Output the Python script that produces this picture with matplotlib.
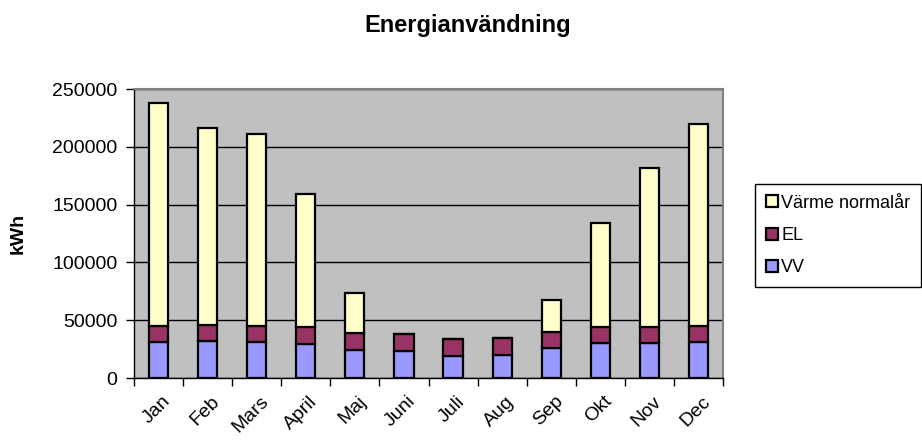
import matplotlib
matplotlib.use("Agg")
import matplotlib.pyplot as plt
from matplotlib.transforms import ScaledTranslation
import numpy as np

plt.rcParams['font.family'] = ['Liberation Sans', 'DejaVu Sans']

months = ["Jan", "Feb", "Mars", "April", "Maj", "Juni", "Juli", "Aug", "Sep", "Okt", "Nov", "Dec"]
vv = [30900, 32000, 30900, 29700, 24200, 23350, 19300, 20150, 25670, 30000, 30550, 31150]
el = [14100, 13850, 14100, 14150, 14450, 14450, 14150, 14150, 14380, 13850, 13850, 13850]
varme = [192600, 170650, 166060, 115050, 34600, 0, 0, 0, 27420, 89950, 137000, 174400]
yticks = [0, 50000, 100000, 150000, 200000, 250000]

c_vv = "#9999FF"
c_el = "#993366"
c_varme = "#FFFFCC"

fig = plt.figure(figsize=(9.22, 4.40), dpi=100)
ax = fig.add_axes([134 / 922, 1 - 378 / 440, (723 - 134) / 922, (378 - 89) / 440])
ax.set_facecolor("#C0C0C0")

x = np.arange(len(months)) + 0.5
w = 0.39
vv_a = np.array(vv)
el_a = np.array(el)
bk = dict(edgecolor="black", linewidth=1.6, zorder=3)
b_vv = ax.bar(x, vv_a, w, color=c_vv, label="VV", **bk)
b_el = ax.bar(x, el_a, w, bottom=vv_a, color=c_el, label="EL", **bk)
b_va = ax.bar(x, varme, w, bottom=vv_a + el_a, color=c_varme, label="Värme normalår", **bk)

ax.set_xlim(0, len(months))
ax.set_ylim(0, 250000)
ax.set_yticks(yticks)
ax.set_yticklabels([str(v) for v in yticks])
ax.yaxis.grid(True, color="black", linewidth=1.0)
ax.set_axisbelow(True)

# category boundaries carry the x tick marks; labels sit at the centres
ax.set_xticks(np.arange(len(months) + 1))
ax.set_xticklabels([])
ax.set_xticks(x, minor=True)
ax.set_xticklabels(months, minor=True, rotation=45, ha="right", va="center",
                   rotation_mode="anchor", fontsize=14)
ax.tick_params(axis="x", which="minor", length=0, pad=15)
ax.tick_params(axis="x", which="major", length=6, width=1.0, direction="out", color="black")
ax.tick_params(axis="y", length=6, width=1.0, direction="out", labelsize=14, pad=6)

shift = ScaledTranslation(9 / 100, 0, fig.dpi_scale_trans)
for lab in ax.get_xticklabels(minor=True):
    lab.set_transform(lab.get_transform() + shift)

for s in ("top", "right"):
    ax.spines[s].set_color("#808080")
    ax.spines[s].set_linewidth(1.5)
for s in ("left", "bottom"):
    ax.spines[s].set_color("black")
    ax.spines[s].set_linewidth(1.0)

ax.set_ylabel("kWh", fontsize=14, fontweight="bold", labelpad=18)

fig.text(0.507, 0.943, "Energianvändning", ha="center", va="center",
         fontsize=17, fontweight="bold")

leg = fig.legend(handles=[b_va, b_el, b_vv], labels=["Värme normalår", "EL", "VV"],
                 loc="upper left", bbox_to_anchor=(0.819, 0.582), fontsize=13,
                 frameon=True, fancybox=False, edgecolor="black", framealpha=1,
                 handlelength=0.65, handleheight=0.65, handletextpad=0.2,
                 labelspacing=0.85, borderpad=0.6, borderaxespad=0)
leg.get_frame().set_linewidth(1.0)

fig.savefig("out.png", dpi=100)
